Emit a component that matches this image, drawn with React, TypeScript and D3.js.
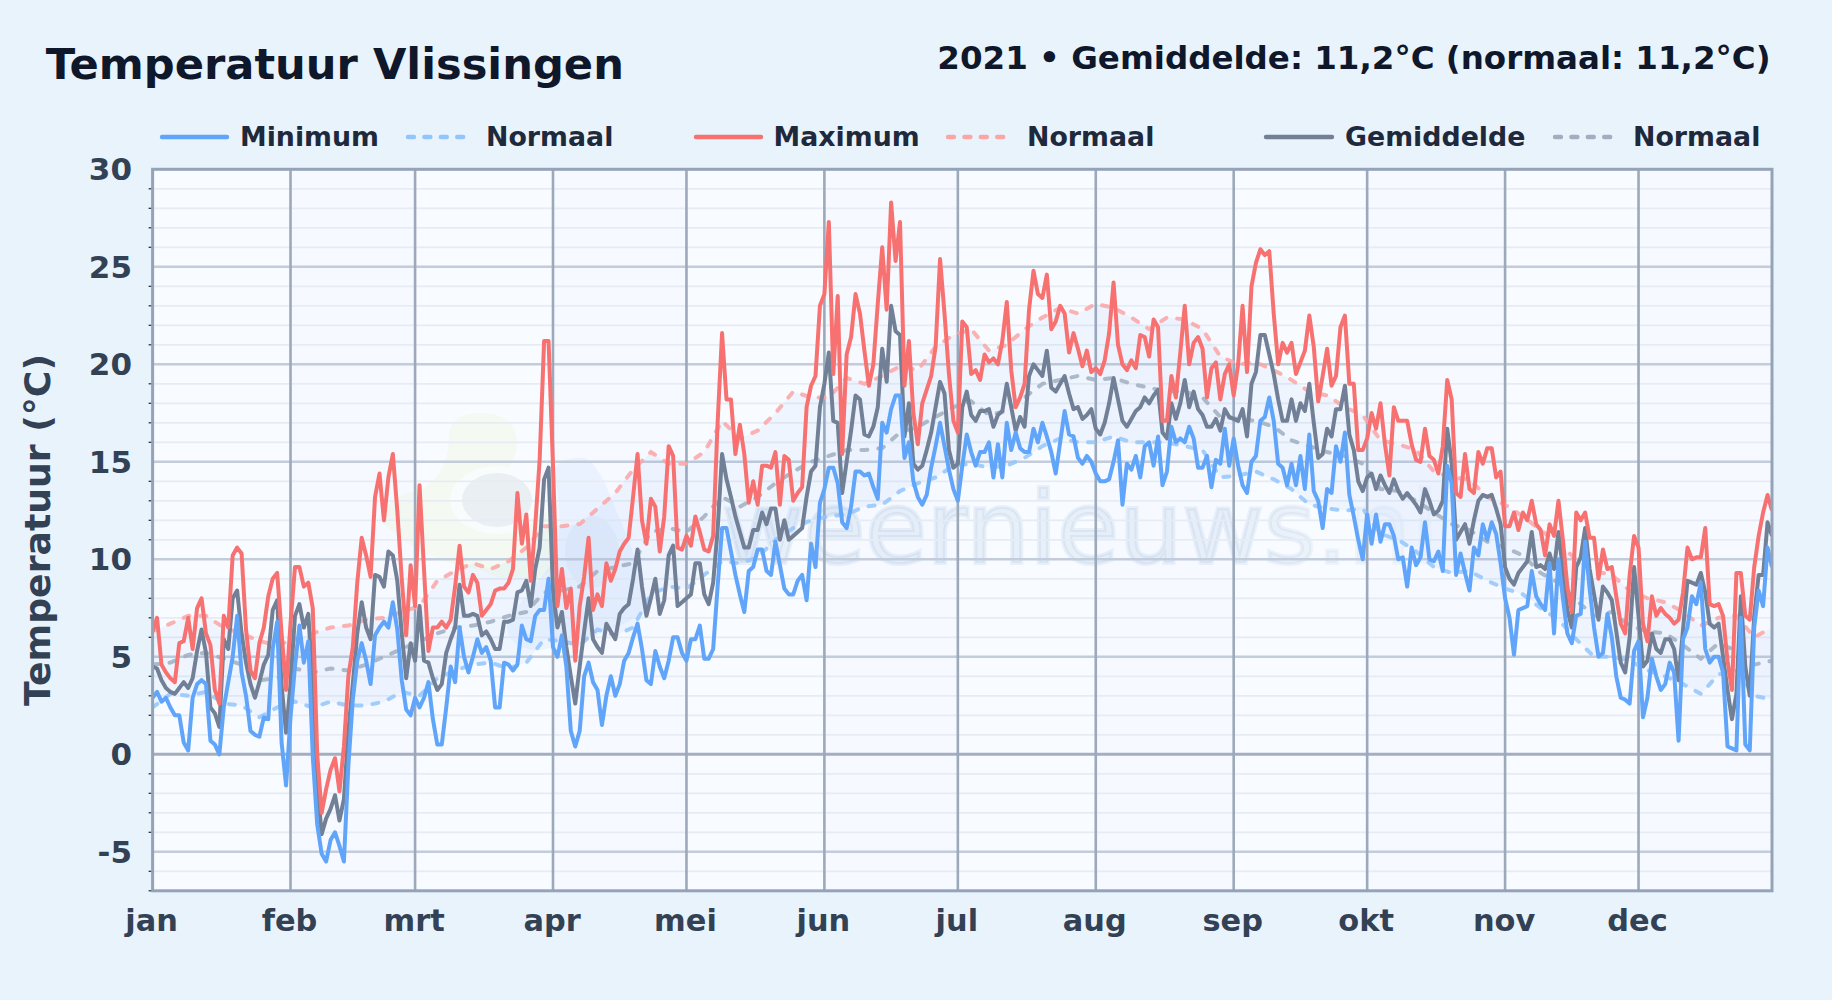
import * as d3 from "d3";

const W = 1832;
const H = 1000;
const plot = { left: 152.6, right: 1772, top: 169.3, bottom: 890.8 };

const months = ["jan", "feb", "mrt", "apr", "mei", "jun", "jul", "aug", "sep", "okt", "nov", "dec"];
const monthStarts = [0, 31, 59, 90, 120, 151, 181, 212, 243, 273, 304, 334];

const maxTemp = [
  6.3, 7.0, 4.6, 4.2, 3.9, 3.7, 5.7, 5.8, 7.0, 5.4,
  7.5, 8.0, 6.2, 5.6, 3.3, 2.6, 7.1, 6.5, 10.2, 10.6,
  10.3, 6.4, 4.3, 3.9, 5.7, 6.5, 8.1, 9.0, 9.3, 6.2,
  3.3, 6.7, 9.6, 9.6, 8.6, 8.8, 7.5, 0.0, -3.0, -1.8,
  -0.8, -0.2, -1.9, 0.4, 4.0, 5.5, 8.8, 11.1, 10.2, 9.1,
  13.2, 14.4, 12.0, 14.2, 15.4, 12.5, 9.0, 6.1, 9.7, 7.6,
  13.8, 9.5, 5.3, 6.5, 6.5, 6.8, 6.5, 6.9, 8.6, 10.7,
  8.6, 8.3, 9.2, 8.8, 7.1, 7.4, 7.7, 8.4, 8.5, 8.5,
  8.8, 9.5, 13.4, 10.8, 12.3, 8.9, 11.7, 15.1, 21.2, 21.2,
  14.8, 7.6, 9.5, 7.5, 8.5, 4.8, 7.6, 9.1, 11.1, 7.4,
  8.2, 7.6, 9.8, 8.9, 9.5, 10.4, 10.8, 11.1, 13.2, 15.4,
  12.0, 10.8, 13.1, 12.7, 10.4, 12.2, 15.8, 15.3, 10.6, 10.5,
  11.2, 10.7, 12.2, 11.4, 10.5, 10.4, 11.2, 17.0, 21.6, 18.2,
  18.2, 15.4, 16.9, 15.4, 12.9, 14.0, 12.8, 14.8, 14.8, 14.7,
  15.5, 12.8, 15.3, 15.1, 13.0, 13.4, 13.7, 17.8, 18.9, 19.4,
  23.0, 23.6, 27.3, 19.5, 23.5, 15.4, 20.5, 21.4, 23.6, 22.6,
  20.7, 18.9, 20.0, 23.1, 26.0, 22.8, 28.3, 25.3, 27.3, 18.9,
  21.2, 17.5, 15.9, 18.0, 18.7, 19.4, 20.9, 25.4, 22.6, 19.5,
  17.1, 16.5, 22.2, 21.9, 19.5, 19.7, 19.2, 20.5, 20.1, 20.3,
  20.0, 21.2, 23.2, 19.7, 17.8, 18.3, 19.0, 22.8, 24.8, 23.6,
  23.4, 24.6, 21.8, 22.2, 23.0, 22.6, 20.6, 21.6, 20.8, 19.9,
  20.7, 19.6, 19.8, 19.5, 20.2, 21.6, 24.2, 21.0, 20.0, 19.7,
  20.2, 19.8, 21.5, 21.4, 20.4, 22.3, 21.9, 17.1, 17.1, 19.4,
  18.3, 20.6, 23.0, 20.0, 21.1, 21.4, 20.8, 18.3, 19.8, 20.1,
  18.2, 19.5, 20.0, 18.4, 20.0, 23.0, 19.6, 24.0, 25.2, 25.9,
  25.6, 25.8, 22.6, 20.0, 21.1, 20.6, 21.1, 19.5, 20.1, 20.7,
  22.5, 20.9, 18.1, 19.4, 20.8, 18.9, 19.4, 21.9, 22.5, 19.0,
  19.0, 15.6, 15.6, 16.2, 17.5, 16.7, 18.0, 15.9, 14.3, 17.8,
  17.1, 17.1, 17.1, 15.9, 15.1, 15.0, 16.7, 15.3, 15.1, 14.4,
  15.8, 19.2, 18.2, 13.4, 13.2, 15.4, 13.6, 13.4, 15.5, 14.9,
  15.7, 15.7, 14.2, 14.5, 11.7, 11.7, 12.4, 11.5, 12.4, 12.0,
  13.0, 11.8, 11.5, 10.2, 11.8, 11.2, 13.0, 11.0, 8.6, 7.3,
  12.4, 12.0, 12.4, 11.1, 11.1, 9.0, 10.5, 9.5, 9.6, 8.1,
  6.7, 6.2, 9.2, 11.2, 10.6, 6.7, 5.8, 8.1, 7.1, 7.5,
  7.2, 7.0, 6.7, 6.9, 8.3, 10.6, 10.0, 10.1, 10.1, 11.6,
  7.7, 7.6, 7.7, 7.1, 4.8, 3.3, 9.3, 9.3, 7.1, 6.9,
  9.6, 11.2, 12.4, 13.3, 12.5,
];

const minTemp = [
  2.9, 3.2, 2.7, 2.9, 2.4, 2.0, 2.0, 0.6, 0.2, 2.9,
  3.6, 3.8, 3.6, 0.7, 0.5, 0.0, 2.4, 3.7, 5.0, 7.1,
  4.2, 3.0, 1.2, 1.0, 0.9, 1.9, 1.8, 5.4, 6.8, 0.6,
  -1.6, 1.9, 4.5, 6.6, 4.7, 5.8, -0.1, -3.6, -5.1, -5.5,
  -4.4, -4.0, -4.7, -5.5, -0.6, 2.8, 4.8, 5.7, 4.8, 3.6,
  6.1, 6.5, 6.8, 6.5, 7.8, 6.4, 3.8, 2.3, 2.0, 2.9,
  2.4, 2.9, 3.7, 1.8, 0.5, 0.5, 2.4, 4.5, 3.7, 6.5,
  5.0, 4.2, 5.0, 5.9, 5.2, 5.5, 4.8, 2.4, 2.4, 4.7,
  4.6, 4.3, 4.6, 6.6, 5.9, 5.8, 7.1, 7.4, 7.4, 9.0,
  5.5, 5.0, 6.1, 4.5, 1.2, 0.4, 1.2, 4.0, 4.7, 3.7,
  3.3, 1.5, 3.0, 4.0, 3.0, 3.6, 4.8, 5.2, 6.0, 6.7,
  5.4, 3.8, 3.6, 5.3, 4.5, 3.9, 4.8, 6.0, 6.0, 5.2,
  4.8, 5.9, 5.9, 6.6, 4.9, 4.9, 5.4, 8.6, 11.6, 11.6,
  10.4, 9.2, 8.2, 7.3, 9.4, 9.6, 10.5, 10.5, 9.4, 9.2,
  10.9, 9.7, 8.5, 8.2, 8.2, 8.9, 9.2, 7.9, 10.8, 9.6,
  12.9, 13.6, 14.7, 14.7, 13.9, 11.9, 11.6, 12.7, 14.5, 14.5,
  14.3, 14.4, 13.7, 13.1, 17.0, 16.5, 17.7, 18.4, 18.4, 15.2,
  16.0, 14.0, 13.2, 12.8, 13.3, 14.7, 15.8, 17.0, 15.8, 14.6,
  13.6, 13.0, 14.8, 16.4, 15.5, 14.8, 15.5, 15.5, 16.0, 14.2,
  15.9, 14.2, 17.0, 15.6, 16.5, 15.7, 15.5, 15.5, 16.7, 16.0,
  17.0, 16.3, 15.5, 14.4, 16.0, 17.6, 16.4, 16.3, 15.2, 14.9,
  15.3, 15.0, 14.4, 14.0, 14.0, 14.1, 15.0, 16.1, 12.8, 14.9,
  14.6, 15.3, 14.2, 15.8, 16.0, 14.8, 16.3, 13.8, 14.5, 16.8,
  16.0, 16.2, 16.0, 16.8, 16.2, 14.7, 14.7, 15.3, 13.7, 15.1,
  14.9, 16.7, 14.8, 16.2, 14.8, 13.8, 13.4, 15.0, 15.3, 17.1,
  17.3, 18.3, 17.1, 14.9, 14.7, 13.8, 14.9, 13.8, 15.3, 13.6,
  16.4, 13.5, 13.0, 11.6, 13.6, 13.4, 15.8, 15.0, 16.5, 13.3,
  12.2, 11.0, 10.0, 12.3, 10.8, 12.3, 10.9, 11.8, 11.8, 11.2,
  10.0, 10.1, 8.6, 10.6, 9.7, 10.1, 11.9, 10.0, 9.9, 10.4,
  9.4, 14.8, 13.9, 9.2, 10.3, 9.3, 8.4, 10.6, 10.2, 11.8,
  11.0, 11.9, 11.3, 9.8, 8.0, 7.0, 5.1, 7.4, 7.5, 7.6,
  9.4, 8.1, 7.7, 7.4, 9.8, 6.2, 10.0, 8.0, 6.2, 5.7,
  7.1, 7.2, 10.9, 8.5, 6.5, 5.0, 5.2, 7.2, 6.0, 4.0,
  2.9, 2.8, 2.6, 5.3, 5.8, 1.9, 2.9, 4.9, 4.0, 3.3,
  3.6, 4.7, 4.2, 0.7, 5.9, 6.5, 8.1, 7.7, 8.8, 5.4,
  4.7, 5.0, 5.0, 4.2, 0.4, 0.3, 0.2, 7.0, 0.5, 0.2,
  6.5, 8.4, 7.6, 10.6, 9.6,
];

const meanTemp = [
  4.5, 4.4, 3.8, 3.4, 3.2, 3.1, 3.4, 3.7, 3.4, 3.9,
  5.3, 6.4, 5.2, 2.4, 2.1, 1.4, 5.9, 5.4, 8.0, 8.4,
  6.2, 4.7, 3.6, 2.9, 3.7, 4.6, 5.1, 7.4, 7.9, 3.5,
  1.1, 3.6, 7.1, 7.7, 6.5, 7.2, 3.5, -1.5, -4.1, -3.3,
  -2.8, -2.1, -3.4, -2.3, 1.2, 3.6, 6.2, 7.8, 6.5, 5.9,
  9.2, 9.1, 8.6, 10.4, 10.2, 8.9, 6.2, 3.9, 5.7, 4.8,
  7.6, 4.8, 4.7, 3.9, 3.3, 3.6, 5.2, 5.9, 6.5, 8.7,
  7.1, 7.1, 7.2, 7.1, 6.1, 6.3, 5.9, 5.4, 5.4, 6.8,
  6.8, 6.9, 8.3, 8.4, 8.9, 7.6, 9.5, 10.6, 14.1, 14.7,
  8.4, 6.5, 7.3, 5.5, 4.0, 2.6, 4.5, 6.3, 8.0, 5.9,
  5.5, 5.2, 6.7, 6.3, 5.9, 7.2, 7.5, 7.7, 9.0, 10.5,
  8.6, 7.1, 8.0, 9.0, 7.2, 7.9, 10.2, 10.7, 7.6, 7.8,
  8.0, 8.2, 9.8, 9.8, 8.2, 7.7, 8.8, 11.5, 15.4, 14.1,
  13.2, 12.2, 11.4, 10.6, 10.6, 11.5, 11.5, 12.4, 11.8, 12.6,
  12.6, 11.0, 12.0, 11.0, 11.2, 11.4, 11.6, 13.2, 14.5, 14.8,
  17.8, 19.0, 20.6, 17.1, 17.0, 13.4, 15.0, 16.6, 18.4, 18.2,
  16.4, 16.3, 16.8, 17.8, 20.8, 19.1, 23.0, 21.7, 21.5, 16.3,
  18.0, 14.9, 14.6, 14.8, 15.6, 16.5, 17.8, 19.1, 18.5, 15.6,
  14.7, 14.9, 17.8, 18.6, 17.4, 17.1, 17.6, 17.6, 17.7, 16.8,
  17.4, 17.6, 19.0, 17.8, 16.6, 17.3, 16.8, 19.4, 20.0, 19.7,
  19.4, 20.7, 18.8, 18.6, 19.0, 19.4, 18.5, 17.7, 17.8, 17.2,
  17.4, 17.7, 16.7, 16.4, 17.0, 18.0, 19.3, 18.2, 17.1, 16.8,
  17.2, 17.6, 17.8, 18.3, 18.0, 18.4, 18.7, 16.5, 16.2, 18.0,
  17.2, 18.0, 19.2, 17.8, 18.6, 17.7, 17.4, 16.8, 16.8, 17.2,
  16.6, 17.7, 17.3, 17.2, 17.1, 17.7, 16.3, 19.0, 19.6, 21.5,
  21.5, 20.5, 19.5, 18.2, 17.1, 17.1, 18.2, 17.1, 18.0, 17.6,
  19.0, 17.0, 15.2, 15.4, 16.7, 16.3, 17.7, 17.7, 18.9, 16.4,
  15.6, 14.0, 13.5, 14.2, 14.4, 13.6, 14.3, 13.8, 13.4, 14.1,
  13.5, 13.1, 13.4, 13.1, 12.8, 12.4, 13.6, 13.0, 12.3, 12.5,
  13.0, 16.7, 14.9, 11.0, 11.4, 11.8, 10.8, 12.0, 13.0, 13.3,
  13.2, 13.3, 12.6, 11.8, 9.6, 9.0, 8.7, 9.3, 9.6, 9.9,
  11.4, 9.6, 9.7, 9.5, 10.3, 9.5, 11.4, 9.5, 7.4, 6.5,
  9.6, 10.1, 11.6, 9.5, 8.2, 6.9, 8.6, 8.3, 7.9, 6.3,
  4.7, 4.2, 6.0, 9.6, 7.1, 4.5, 4.8, 6.2, 5.4, 5.2,
  5.9, 5.9, 5.4, 3.8, 6.4, 8.9, 8.8, 8.7, 9.3, 8.3,
  6.7, 6.5, 6.7, 5.0, 3.3, 1.8, 3.1, 8.1, 4.5, 3.0,
  7.1, 9.2, 9.2, 11.9, 11.2,
];

// normals were read every 4th day
const normalDays = d3.range(0, 365, 4);

const normMax = [
  6.3, 6.7, 7.1, 7.1, 6.5, 6.2, 5.8, 5.6, 5.9, 6.2, 6.5, 6.6, 6.9, 7.0, 7.3, 7.6,
  8.9, 9.4, 9.8, 9.5, 9.9, 10.6, 11.7, 11.7, 11.8, 12.6, 13.4, 14.6, 15.5, 14.9, 14.9, 15.5,
  17.1, 16.2, 16.6, 17.5, 18.6, 18.3, 18.3, 19.3, 19.0, 19.4, 19.9, 19.7, 20.9, 21.5, 21.8, 20.7,
  21.0, 21.8, 22.4, 22.9, 22.6, 23.1, 22.9, 22.4, 21.8, 22.4, 22.3, 21.8, 20.4, 20.0, 20.1, 19.7,
  19.2, 18.6, 18.4, 17.8, 17.4, 16.1, 15.9, 15.6, 14.5, 14.2, 14.1, 13.2, 12.8, 12.2, 11.5, 10.8,
  10.0, 9.4, 9.2, 8.4, 8.0, 7.8, 7.3, 6.6, 7.0, 7.1, 6.0, 6.5,
];

const normMean = [
  4.6, 4.7, 5.1, 5.2, 4.9, 4.6, 3.8, 3.9, 4.4, 4.2, 4.4, 4.3, 4.6, 5.0, 5.4, 5.8,
  6.2, 6.5, 6.6, 6.8, 7.1, 7.3, 8.3, 8.4, 8.6, 9.4, 9.6, 9.8, 11.4, 11.6, 11.4, 12.2,
  13.2, 12.7, 13.2, 13.9, 14.5, 15.0, 15.3, 15.6, 15.6, 15.7, 16.5, 16.8, 17.3, 17.8, 18.1, 17.4,
  17.6, 18.3, 19.0, 19.2, 19.4, 19.2, 19.3, 19.0, 18.8, 18.6, 18.6, 18.3, 17.3, 17.2, 17.1, 16.8,
  16.1, 15.8, 15.5, 15.3, 14.9, 13.6, 13.5, 13.0, 12.4, 11.8, 11.5, 10.9, 10.6, 10.2, 9.3, 8.8,
  7.9, 7.1, 7.3, 6.6, 6.3, 6.2, 5.6, 4.9, 5.7, 5.3, 4.6, 4.8,
];

const normMin = [
  2.4, 3.1, 3.0, 3.2, 2.6, 2.5, 1.9, 2.4, 2.7, 2.4, 2.7, 2.5, 2.5, 2.7, 3.2, 3.0,
  3.9, 4.3, 4.6, 4.7, 4.4, 4.7, 5.9, 5.8, 5.6, 6.4, 6.1, 6.5, 8.2, 8.6, 8.5, 9.2,
  9.9, 9.8, 10.1, 11.0, 11.6, 12.0, 12.2, 12.3, 12.7, 12.8, 13.5, 13.9, 14.2, 14.8, 14.9, 14.7,
  14.8, 15.2, 15.8, 16.2, 16.0, 16.0, 16.3, 16.0, 16.0, 16.0, 15.8, 15.6, 14.2, 14.3, 14.5, 14.1,
  13.6, 12.8, 12.6, 12.5, 12.6, 11.3, 11.0, 10.4, 9.6, 9.3, 9.4, 8.9, 8.5, 8.2, 7.5, 6.9,
  5.9, 5.0, 5.0, 4.8, 4.3, 4.0, 3.6, 3.1, 4.1, 4.3, 3.0, 2.8,
];

const COLORS = {
  min: "#60a5fa",
  max: "#f87171",
  mean: "#718096",
  normMin: "#93c5fd",
  normMax: "#fca5a5",
  normMean: "#a0aec0",
};

const legendItems = [
  { label: "Minimum", x0: 162, x1: 227, tx: 240, color: COLORS.min, dash: false },
  { label: "Normaal", x0: 408, x1: 464, tx: 486, color: COLORS.normMin, dash: true },
  { label: "Maximum", x0: 696, x1: 761, tx: 773.5, color: COLORS.max, dash: false },
  { label: "Normaal", x0: 948, x1: 1004, tx: 1027, color: COLORS.normMax, dash: true },
  { label: "Gemiddelde", x0: 1266, x1: 1332, tx: 1345, color: COLORS.mean, dash: false },
  { label: "Normaal", x0: 1555, x1: 1616, tx: 1633, color: COLORS.normMean, dash: true },
];

const x = d3.scaleLinear().domain([0, 364]).range([plot.left, plot.right]);
const y = d3.scaleLinear().domain([-7, 30]).range([plot.bottom, plot.top]);

const dailyLine = d3
  .line<number>()
  .x((_, i) => x(i))
  .y((d) => y(d));

const normalLine = d3
  .line<number>()
  .x((_, i) => x(normalDays[i]))
  .y((d) => y(d));

const normalBand = d3
  .area<number>()
  .x((d) => x(d))
  .y0((_, i) => y(normMin[i]))
  .y1((_, i) => y(normMax[i]));

const FONT = "'DejaVu Sans', sans-serif";

export default function App() {
  const allDegrees = d3.range(-7, 31);
  const bandEnds = [...monthStarts.slice(1), 364];
  return (
    <svg
      width={W}
      height={H}
      viewBox={`0 0 ${W} ${H}`}
      style={{ position: "fixed", left: 0, top: 0, fontFamily: FONT }}
    >
      <defs>
        <clipPath id="plotClip">
          <rect
            x={plot.left}
            y={plot.top}
            width={plot.right - plot.left}
            height={plot.bottom - plot.top}
          />
        </clipPath>
        <linearGradient id="markFade" x1="0" x2="1" y1="0" y2="0">
          <stop offset="0" stopColor="#7ba3cc" stopOpacity={0.14} />
          <stop offset="0.75" stopColor="#7ba3cc" stopOpacity={0.13} />
          <stop offset="1" stopColor="#7ba3cc" stopOpacity={0.03} />
        </linearGradient>
      </defs>

      <rect width={W} height={H} fill="#e9f3fc" />

      <text x={45.8} y={78.7} fontSize={43.2} fontWeight={700} fill="#0f172a">
        Temperatuur Vlissingen
      </text>
      <text x={1770.5} y={69.3} fontSize={32.5} fontWeight={700} fill="#0f172a" textAnchor="end">
        2021 • Gemiddelde: 11,2°C (normaal: 11,2°C)
      </text>

      {/* Legend */}
      {legendItems.map((d) => (
        <g key={d.tx}>
          <line
            x1={d.x0}
            x2={d.x1}
            y1={137}
            y2={137}
            stroke={d.color}
            strokeWidth={4.4}
            strokeLinecap="round"
            strokeDasharray={d.dash ? "6 10.4" : undefined}
          />
          <text x={d.tx} y={145.7} fontSize={26.8} fontWeight={700} fill="#1e293b">
            {d.label}
          </text>
        </g>
      ))}

      {/* Plot background, alternate months tinted */}
      <rect
        x={plot.left}
        y={plot.top}
        width={plot.right - plot.left}
        height={plot.bottom - plot.top}
        fill="#f8fbff"
      />
      {monthStarts.map((m, i) =>
        i % 2 === 1 ? (
          <rect
            key={m}
            x={x(m)}
            y={plot.top}
            width={x(bandEnds[i]) - x(m)}
            height={plot.bottom - plot.top}
            fill="#6366f1"
            fillOpacity={0.015}
          />
        ) : null,
      )}

      {/* Watermark */}
      <g clipPath="url(#plotClip)">
        <path
          d="M 449 432 Q 452 413 482 413 Q 516 414 517 442 Q 517 462 505 470 Q 560 500 552 570 Q 520 590 480 570 Q 420 560 382 522 Q 385 495 420 490 Q 450 475 449 432 Z"
          fill="#d9f99d"
          fillOpacity={0.14}
        />
        <path
          d="M 553 470 Q 565 455 585 458 Q 600 465 617 513 Q 640 560 645 612 Q 600 640 540 650 Q 505 650 507 620 Q 530 590 555 560 Q 565 520 553 470 Z"
          fill="#60a5fa"
          fillOpacity={0.08}
        />
        <ellipse cx={592} cy={552} rx={27} ry={36} fill="#64748b" fillOpacity={0.05} />
        <ellipse cx={497} cy={500} rx={47} ry={34} fill="#f8fbff" fillOpacity={0.85} />
        <ellipse cx={497} cy={500} rx={35} ry={27} fill="#64748b" fillOpacity={0.09} />
        <text
          x={722}
          y={563}
          fontSize={100}
          fontWeight={400}
          fill="url(#markFade)"
          stroke="url(#markFade)"
          strokeWidth={4}
        >
          weernieuws.nl
        </text>
      </g>

      {/* Grid */}
      {allDegrees.map((t) => {
        const major = t % 5 === 0;
        return (
          <g key={t}>
            {t !== -7 && t !== 30 && (
              <line
                x1={plot.left}
                x2={plot.right}
                y1={y(t)}
                y2={y(t)}
                stroke={t === 0 ? "#a3afc1" : major ? "#c2ccdb" : "#e6ecf3"}
                strokeWidth={t === 0 ? 3 : major ? 2.6 : 1.8}
              />
            )}
            {!major && (
              <line x1={plot.left - 4} x2={plot.left} y1={y(t)} y2={y(t)} stroke="#1e293b" strokeWidth={1.2} />
            )}
          </g>
        );
      })}
      {monthStarts.slice(1).map((m) => (
        <line
          key={m}
          x1={x(m)}
          x2={x(m)}
          y1={plot.top}
          y2={plot.bottom}
          stroke="#9ca9bb"
          strokeWidth={2.6}
        />
      ))}

      {/* Normal band and series */}
      <g clipPath="url(#plotClip)">
        <path d={normalBand(normalDays) ?? ""} fill="#3b82f6" fillOpacity={0.05} />
        <g fill="none" strokeWidth={4} strokeDasharray="6 11" strokeLinecap="round" strokeOpacity={0.85}>
          <path d={normalLine(normMin) ?? ""} stroke={COLORS.normMin} />
          <path d={normalLine(normMax) ?? ""} stroke={COLORS.normMax} />
          <path d={normalLine(normMean) ?? ""} stroke={COLORS.normMean} />
        </g>
        <g fill="none" strokeWidth={4} strokeLinejoin="round">
          <path d={dailyLine(meanTemp) ?? ""} stroke={COLORS.mean} />
          <path d={dailyLine(maxTemp) ?? ""} stroke={COLORS.max} />
          <path d={dailyLine(minTemp) ?? ""} stroke={COLORS.min} />
        </g>
      </g>

      {/* Frame */}
      <rect
        x={plot.left}
        y={plot.top}
        width={plot.right - plot.left}
        height={plot.bottom - plot.top}
        fill="none"
        stroke="#94a3b8"
        strokeWidth={3}
      />

      {/* Axis labels */}
      {y.ticks(8).filter((t) => t % 5 === 0).map((t) => (
        <text key={t} x={132} y={y(t) + 11} fontSize={31} fontWeight={700} fill="#334155" textAnchor="end">
          {t}
        </text>
      ))}
      {months.map((m, i) => (
        <text key={m} x={x(monthStarts[i]) - 1} y={931} fontSize={30.4} fontWeight={700} fill="#334155" textAnchor="middle">
          {m}
        </text>
      ))}
      <text
        transform={`translate(50,530) rotate(-90)`}
        fontSize={36.2}
        fontWeight={700}
        fill="#334155"
        textAnchor="middle"
      >
        Temperatuur (°C)
      </text>
    </svg>
  );
}
